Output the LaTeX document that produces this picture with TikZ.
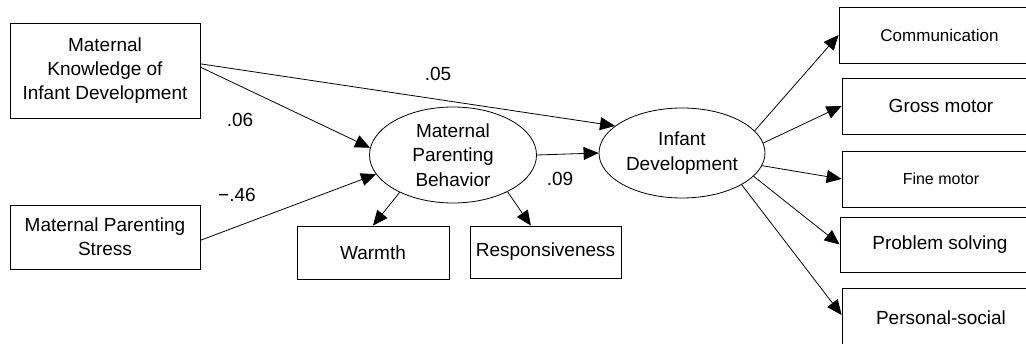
\documentclass[tikz,border=0pt]{standalone}
\usepackage{fontspec}
\setmainfont{Liberation Sans}
\usetikzlibrary{arrows.meta,calc,shapes.geometric}
\begin{document}
\begin{tikzpicture}[x=1pt,y=-1pt,
  box/.style={draw, line width=0.8pt, inner sep=0pt, align=center, font=\fontsize{19}{24}\selectfont},
  commbox/.style={box, font=\fontsize{17}{22}\selectfont},
  smallbox/.style={box, font=\fontsize{16}{22}\selectfont},
  latent/.style={draw, ellipse, line width=0.8pt, inner sep=0pt, align=center, font=\fontsize{19}{24.5}\selectfont},
  pathline/.style={line width=0.8pt, -{Triangle[length=15pt,width=13pt]}},
  coef/.style={font=\fontsize{19}{24}\selectfont}]
\clip (0,0) rectangle (1026,344);
% observed predictors
\node[box, minimum width=190, minimum height=95] (know) at (105,70.5) {Maternal\\Knowledge of\\Infant Development};
\node[box, minimum width=190, minimum height=64] (stress) at (105,237) {Maternal Parenting\\Stress};
% latent variables
\node[latent, minimum width=167, minimum height=96] (mpb) at (453,155) {Maternal\\Parenting\\Behavior};
\node[latent, minimum width=166, minimum height=90] (inf) at (682,153) {Infant\\Development};
% indicators of parenting behavior
\node[box, minimum width=152, minimum height=53] (warm) at (373,252.5) {Warmth};
\node[box, minimum width=151, minimum height=52] (resp) at (545.5,252) {Responsiveness};
% indicators of infant development
\node[commbox, minimum width=201, minimum height=56] (comm) at (939.5,35) {Communication};
\node[box, minimum width=198, minimum height=56] (gross) at (941,106) {Gross motor};
\node[smallbox, minimum width=198, minimum height=56] (fine) at (941,179) {Fine motor};
\node[box, minimum width=200, minimum height=55] (prob) at (940,244.5) {Problem solving};
\node[box, minimum width=198, minimum height=60] (pers) at (941,318) {Personal-social};
% paths
\draw[pathline] (know.4) -- (inf.158);
\draw[pathline] (know.2) -- (mpb.175);
\draw[pathline] (stress.-2) -- (mpb.194);
\draw[pathline] (mpb.215) -- (warm.north);
\draw[pathline] (mpb.-34) -- (resp.119);
\draw[pathline] (mpb.east) -- (inf.west);
\draw[pathline] (inf.17) -- (comm.west);
\draw[pathline] (inf.7) -- (gross.west);
\draw[pathline] (inf.-9.5) -- (fine.west);
\draw[pathline] (inf.-18) -- (prob.west);
\draw[pathline] (inf.-28) -- ($(pers.west)+(0,-3)$);
% coefficients
\node[coef] (c05) at (438,74) {.05};
\node[coef] (c06) at (240,120) {.06};
\node[coef] (c46) at (237,195) {−.46};
\node[coef] (c09) at (560,179) {.09};
\end{tikzpicture}
\end{document}
